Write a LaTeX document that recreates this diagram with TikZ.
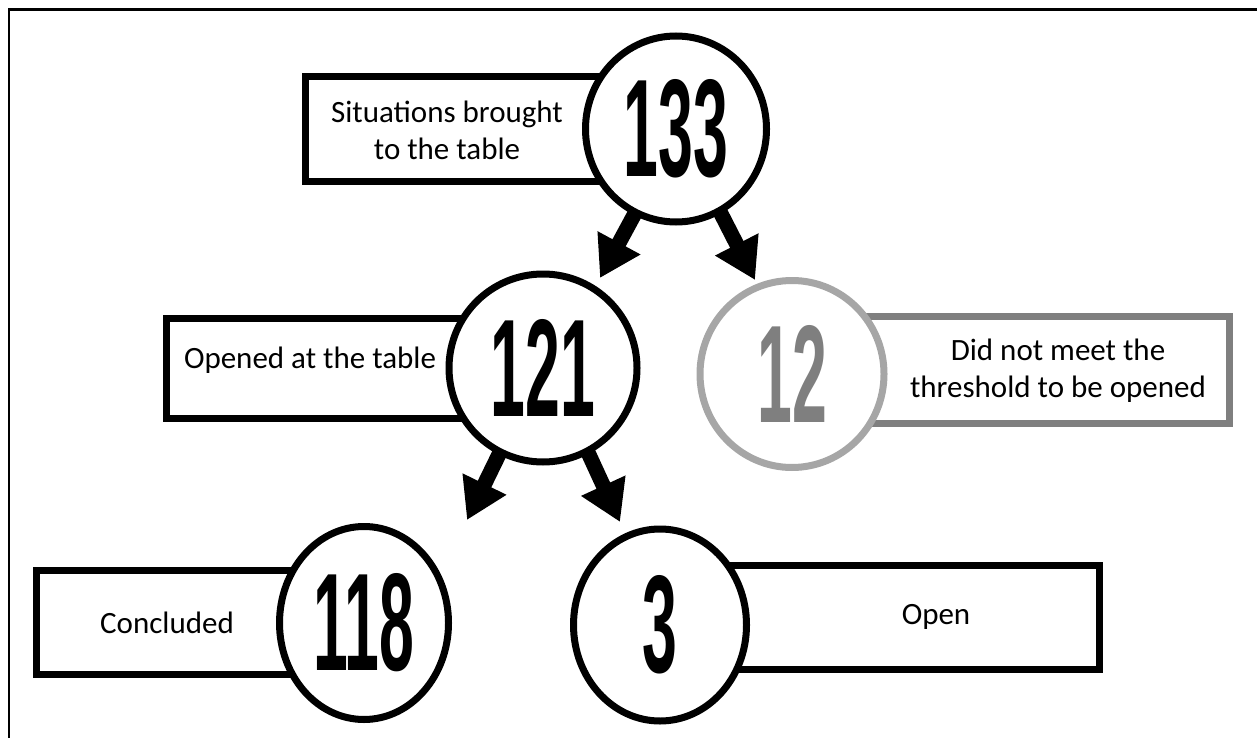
\documentclass[tikz,border=0pt]{standalone}
\usepackage{fontspec}
\usepackage{graphicx}
\setmainfont{Carlito}
\newfontfamily\numfont{Liberation Sans}
\usetikzlibrary{shapes.geometric,arrows.meta}

\definecolor{boxgray}{HTML}{7F7F7F}
\definecolor{ringgray}{HTML}{A6A6A6}

\tikzset{
  x=1pt, y=-1pt,
  ring/.style={ellipse, draw=black, line width=7pt, fill=white, inner sep=0pt},
  greyring/.style={ring, draw=ringgray, text=boxgray},
  labelbox/.style={rectangle, draw=black, line width=7pt, fill=white, inner sep=0pt},
  greybox/.style={labelbox, draw=boxgray},
  caption/.style={font=\fontsize{31}{37}\selectfont, align=center, inner sep=0pt},
  fat/.style={line width=15pt, -{Triangle[length=40pt,width=46pt]}, shorten <=-4pt},
}
\newcommand{\bignum}[1]{{\numfont\bfseries\fontsize{139}{139}\selectfont\scalebox{0.45}[1]{#1}}}

\begin{document}
\begin{tikzpicture}
  \useasboundingbox (0,0) rectangle (1257,738);

  % page frame (top and left rules)
  \draw[line width=2.5pt] (9,738) -- (9,9.5) -- (1257,9.5);

  % label boxes (their right ends run under the rings)
  \node[labelbox, minimum width=334.5, minimum height=105] (b133) at (472.75,129) {};
  \node[labelbox, minimum width=353.5, minimum height=100] (b121) at (343.25,368.5) {};
  \node[greybox,  minimum width=409.5, minimum height=107] (b12)  at (1024.75,370) {};
  \node[labelbox, minimum width=343.5, minimum height=104] (b118) at (208.25,622.5) {};
  \node[labelbox, minimum width=459.5, minimum height=104] (b3)   at (869.75,617.5) {};

  % box captions
  \node[caption] (t133) at (447,130) {Situations brought\\to the table};
  \node[caption] (t121) at (310,360) {Opened at the table};
  \node[caption] (t12)  at (1058,371) {Did not meet the\\threshold to be opened};
  \node[caption] (t118) at (167,623) {Concluded};
  \node[caption] (t3)   at (936,617) {Open};

  % count rings
  \node[ring, minimum width=181, minimum height=186] (c133) at (676,129) {\bignum{133}};
  \node[ring, minimum width=188, minimum height=188] (c121) at (543,368) {\bignum{121}};
  \node[greyring, minimum width=184, minimum height=187] (c12) at (792,374) {\bignum{12}};
  \node[ring, minimum width=169, minimum height=193] (c118) at (364,623) {\bignum{118}};
  \node[ring, minimum width=173, minimum height=192] (c3)   at (660,625) {\bignum{3}};

  % arrow tips
  \coordinate (h121) at (600,278);
  \coordinate (h12)  at (755,280);
  \coordinate (h118) at (467,520);
  \coordinate (h3)   at (620,522);

  % flow arrows
  \draw[fat] (c133.-116) -- (h121);
  \draw[fat] (c133.-62)  -- (h12);
  \draw[fat] (c121.-117) -- (h118);
  \draw[fat] (c121.-62)  -- (h3);
\end{tikzpicture}
\end{document}
